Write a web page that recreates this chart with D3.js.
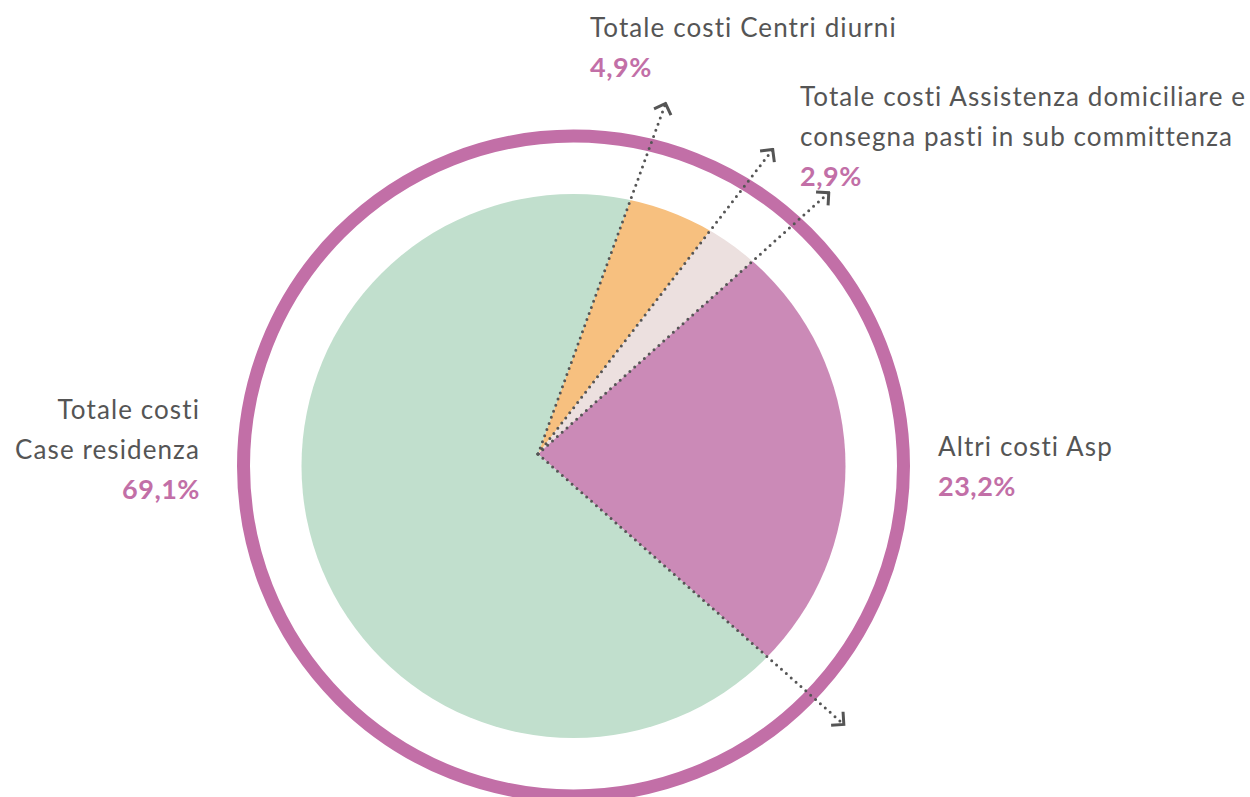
<!DOCTYPE html>
<html>
<head>
<meta charset="utf-8">
<script src="https://cdn.jsdelivr.net/npm/d3@7"></script>
<style>
    body { margin: 0; background: #fff; }
    .label { font-family: Lato, "Open Sans", sans-serif; font-size: 26px; letter-spacing: 1.1px; fill: #555; }
    .share { font-family: Lato, "Open Sans", sans-serif; font-size: 27px; font-weight: 700; letter-spacing: 0.5px; fill: #c26fa7; }
</style>
</head>
<body>
<div id="chart"></div>
<script>
// ── Data ─────────────────────────────────────────────────────────
const categories = ["Centri diurni", "Assistenza domiciliare", "Altri costi Asp", "Case residenza"];
const shares = [4.9, 2.9, 23.2, 69.1];
const labelLines = [
    ["Totale costi Centri diurni"],
    ["Totale costi Assistenza domiciliare e", "consegna pasti in sub committenza"],
    ["Altri costi Asp"],
    ["Totale costi", "Case residenza"]
];
const sliceColors = ["#f7c07f", "#ece0df", "#cb8ab7", "#c1dfcd"];

// ── Layout ───────────────────────────────────────────────────────
const width = 1250;
const height = 797;
const center = { x: 573.5, y: 466 };   // circle centre
const apex = { x: 538, y: 454 };       // point where the slices meet
const pieRadius = 272;
const ringRadius = 330;
const tipRadius = 374;                 // arrows end on this circle
const lineHeight = 40;
const labelPos = [
    { x: 590, y: 37, anchor: "start" },
    { x: 800, y: 106, anchor: "start" },
    { x: 938, y: 456, anchor: "start" },
    { x: 200, y: 419, anchor: "end" }
];
const startAngle = 20 * Math.PI / 180;

const itLocale = d3.formatLocale({ decimal: ",", thousands: ".", grouping: [3], currency: ["€", ""] });
const formatShare = d => itLocale.format(".1f")(d) + "%";

const svg = d3.select("#chart")
    .append("svg")
    .attr("width", width)
    .attr("height", height);

const defs = svg.append("defs");
defs.append("clipPath")
    .attr("id", "pie-clip")
    .append("circle")
    .attr("cx", center.x)
    .attr("cy", center.y)
    .attr("r", pieRadius);

defs.append("marker")
    .attr("id", "arrow")
    .attr("markerUnits", "userSpaceOnUse")
    .attr("viewBox", "-12 -12 14 24")
    .attr("refX", 0)
    .attr("refY", 0)
    .attr("markerWidth", 14)
    .attr("markerHeight", 24)
    .attr("orient", "auto")
    .append("path")
    .attr("d", "M-9,-9 L0,0 L-9,9")
    .attr("fill", "none")
    .attr("stroke", "#555")
    .attr("stroke-width", 3);

// Slices: wedges from the apex, clipped to the circle
const pie = d3.pie()
    .sort(null)
    .startAngle(startAngle)
    .endAngle(startAngle + 2 * Math.PI);
const arcs = pie(shares);

const wedge = d3.arc().innerRadius(0).outerRadius(900);

svg.append("g")
    .attr("clip-path", "url(#pie-clip)")
    .append("g")
    .attr("transform", `translate(${apex.x},${apex.y})`)
    .selectAll("path")
    .data(arcs)
    .join("path")
    .attr("d", wedge)
    .attr("fill", (d, i) => sliceColors[i]);

// Outer ring
svg.append("circle")
    .attr("cx", center.x)
    .attr("cy", center.y)
    .attr("r", ringRadius)
    .attr("fill", "none")
    .attr("stroke", "#c26fa7")
    .attr("stroke-width", 13);

// Dotted arrows along each slice start
const tipPoint = angle => {
    const ux = Math.sin(angle), uy = -Math.cos(angle);
    const dx = apex.x - center.x, dy = apex.y - center.y;
    const b = dx * ux + dy * uy;
    const t = -b + Math.sqrt(b * b - (dx * dx + dy * dy) + tipRadius * tipRadius);
    return { x: apex.x + t * ux, y: apex.y + t * uy };
};

svg.append("g")
    .selectAll("line")
    .data(arcs)
    .join("line")
    .attr("x1", apex.x)
    .attr("y1", apex.y)
    .attr("x2", d => tipPoint(d.startAngle).x)
    .attr("y2", d => tipPoint(d.startAngle).y)
    .attr("stroke", "#555")
    .attr("stroke-width", 3)
    .attr("stroke-linecap", "round")
    .attr("stroke-dasharray", "0 6.5")
    .attr("marker-end", "url(#arrow)");

// Labels
const labels = svg.append("g")
    .selectAll("text")
    .data(categories)
    .join("text")
    .attr("x", (d, i) => labelPos[i].x)
    .attr("y", (d, i) => labelPos[i].y)
    .attr("text-anchor", (d, i) => labelPos[i].anchor);

labels.each(function(d, i) {
    const t = d3.select(this);
    labelLines[i].forEach((line, j) => {
        t.append("tspan")
            .attr("class", "label")
            .attr("x", labelPos[i].x)
            .attr("dy", j === 0 ? 0 : lineHeight)
            .text(line);
    });
    t.append("tspan")
        .attr("class", "share")
        .attr("x", labelPos[i].x)
        .attr("dy", lineHeight)
        .text(formatShare(shares[i]));
});
</script>
</body>
</html>
